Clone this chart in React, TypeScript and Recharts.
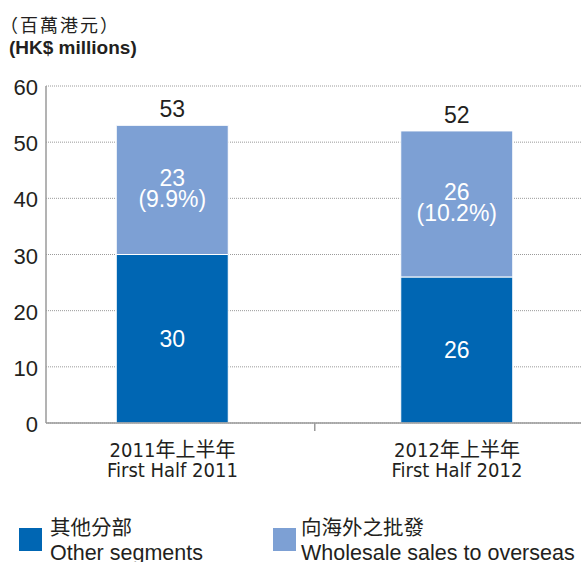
import React from 'react';
import { BarChart, Bar, XAxis, YAxis, CartesianGrid, LabelList } from 'recharts';

const categoriesZh = ['2011年上半年', '2012年上半年'];
const categoriesEn = ['First Half 2011', 'First Half 2012'];
const otherSegments = [30, 26];
const wholesaleOverseas = [23, 26];
const wholesaleShare = ['9.9%', '10.2%'];
const totals = [53, 52];
const yTicks = [0, 10, 20, 30, 40, 50, 60];

const titleZh = '（百萬港元）';
const titleEn = '(HK$ millions)';
const legendOtherZh = '其他分部';
const legendOtherEn = 'Other segments';
const legendWholesaleZh = '向海外之批發';
const legendWholesaleEn = 'Wholesale sales to overseas';

const DARK = '#0066b3';
const LIGHT = '#7da0d4';
const TEXT = '#231f20';
const AXIS = '#9a9a9a';
const SANS = '"Liberation Sans", Arial, Helvetica, sans-serif';
const NARROW = '"DejaVu Sans Condensed", "Liberation Sans Narrow", "Noto Sans CJK TC", sans-serif';
const CJK = '"Noto Sans CJK TC", "Noto Sans CJK SC", sans-serif';

const data = categoriesEn.map((en, i) => ({
  name: en,
  zh: categoriesZh[i],
  other: otherSegments[i],
  wholesale: wholesaleOverseas[i],
  share: wholesaleShare[i],
  total: totals[i],
}));

const XTick = (props: any) => {
  const { x, y, payload, index } = props;
  const i = categoriesEn.indexOf(payload.value);
  const off = payload.offset ?? 0;
  return (
    <g>
      {index === 0 && (
        <line x1={x + off} x2={x + off} y1={y} y2={y + 8} stroke={AXIS} strokeWidth={1.5} />
      )}
      <text x={x} y={y + 34} textAnchor="middle" fontFamily={NARROW} fontSize={20} fill={TEXT}>
        {categoriesZh[i]}
      </text>
      <text x={x} y={y + 54} textAnchor="middle" fontFamily={NARROW} fontSize={20} fill={TEXT}>
        {categoriesEn[i]}
      </text>
    </g>
  );
};

const YTick = (props: any) => {
  const { x, y, payload } = props;
  return (
    <text x={x} y={y + 9} textAnchor="end" fontFamily={SANS} fontSize={22} fill={TEXT}>
      {payload.value}
    </text>
  );
};

const OtherLabel = (props: any) => {
  const { x, y, width, height, value } = props;
  return (
    <text x={x + width / 2} y={y + height / 2 + 8} textAnchor="middle" fontFamily={SANS} fontSize={23} fill="#ffffff">
      {value}
    </text>
  );
};

const WholesaleLabel = (props: any) => {
  const { x, y, width, height, value, index } = props;
  const cx = x + width / 2;
  const cy = y + height / 2;
  return (
    <g>
      <text x={cx} y={y - 8} textAnchor="middle" fontFamily={SANS} fontSize={23} fill={TEXT}>
        {totals[index]}
      </text>
      <text x={cx} y={cy - 3.5} textAnchor="middle" fontFamily={SANS} fontSize={23} fill="#ffffff">
        {value}
      </text>
      <text x={cx} y={cy + 17} textAnchor="middle" fontFamily={SANS} fontSize={23} fill="#ffffff">
        {`(${wholesaleShare[index]})`}
      </text>
    </g>
  );
};

export default function App() {
  return (
    <div style={{ position: 'absolute', left: 0, top: 0, width: 581, height: 562, background: '#fff' }}>
      <BarChart
        width={581}
        height={562}
        data={data}
        margin={{ top: 86, right: 0, bottom: 109, left: 0 }}
      >
        <CartesianGrid vertical={false} stroke={AXIS} strokeDasharray="1 1" />
        <XAxis
          dataKey="name"
          height={30}
          tickLine={false}
          tickSize={0}
          tickMargin={0}
          axisLine={{ stroke: AXIS, strokeWidth: 1.5 }}
          padding={{ left: -15.75, right: -18.25 }}
          tick={<XTick />}
          interval={0}
        />
        <YAxis
          width={46}
          domain={[0, 60]}
          ticks={yTicks}
          tickLine={false}
          axisLine={{ stroke: AXIS, strokeWidth: 1.5 }}
          tick={<YTick />}
          interval={0}
        />
        <Bar dataKey="other" stackId="a" fill={DARK} stroke="#ffffff" strokeWidth={1} barSize={112} isAnimationActive={false}>
          <LabelList dataKey="other" content={<OtherLabel />} />
        </Bar>
        <Bar dataKey="wholesale" stackId="a" fill={LIGHT} stroke="#ffffff" strokeWidth={1} barSize={112} isAnimationActive={false}>
          <LabelList dataKey="wholesale" content={<WholesaleLabel />} />
        </Bar>
      </BarChart>
      <svg width={581} height={562} style={{ position: 'absolute', left: 0, top: 0, pointerEvents: 'none' }}>
        <text x={0} y={32} fontFamily={CJK} fontSize={18} letterSpacing={2} fill={TEXT}>{titleZh}</text>
        <text x={9} y={54} fontFamily={SANS} fontSize={19} fontWeight="bold" fill={TEXT}>{titleEn}</text>
        <rect x={19} y={528} width={23} height={23} fill={DARK} />
        <text x={50} y={535} fontFamily={CJK} fontSize={20.5} fill={TEXT}>{legendOtherZh}</text>
        <text x={50} y={560} fontFamily={SANS} fontSize={21.5} fill={TEXT}>{legendOtherEn}</text>
        <rect x={273} y={528} width={23} height={23} fill={LIGHT} />
        <text x={301} y={535} fontFamily={CJK} fontSize={20.5} fill={TEXT}>{legendWholesaleZh}</text>
        <text x={301} y={560} fontFamily={SANS} fontSize={21.5} fill={TEXT}>{legendWholesaleEn}</text>
      </svg>
    </div>
  );
}
